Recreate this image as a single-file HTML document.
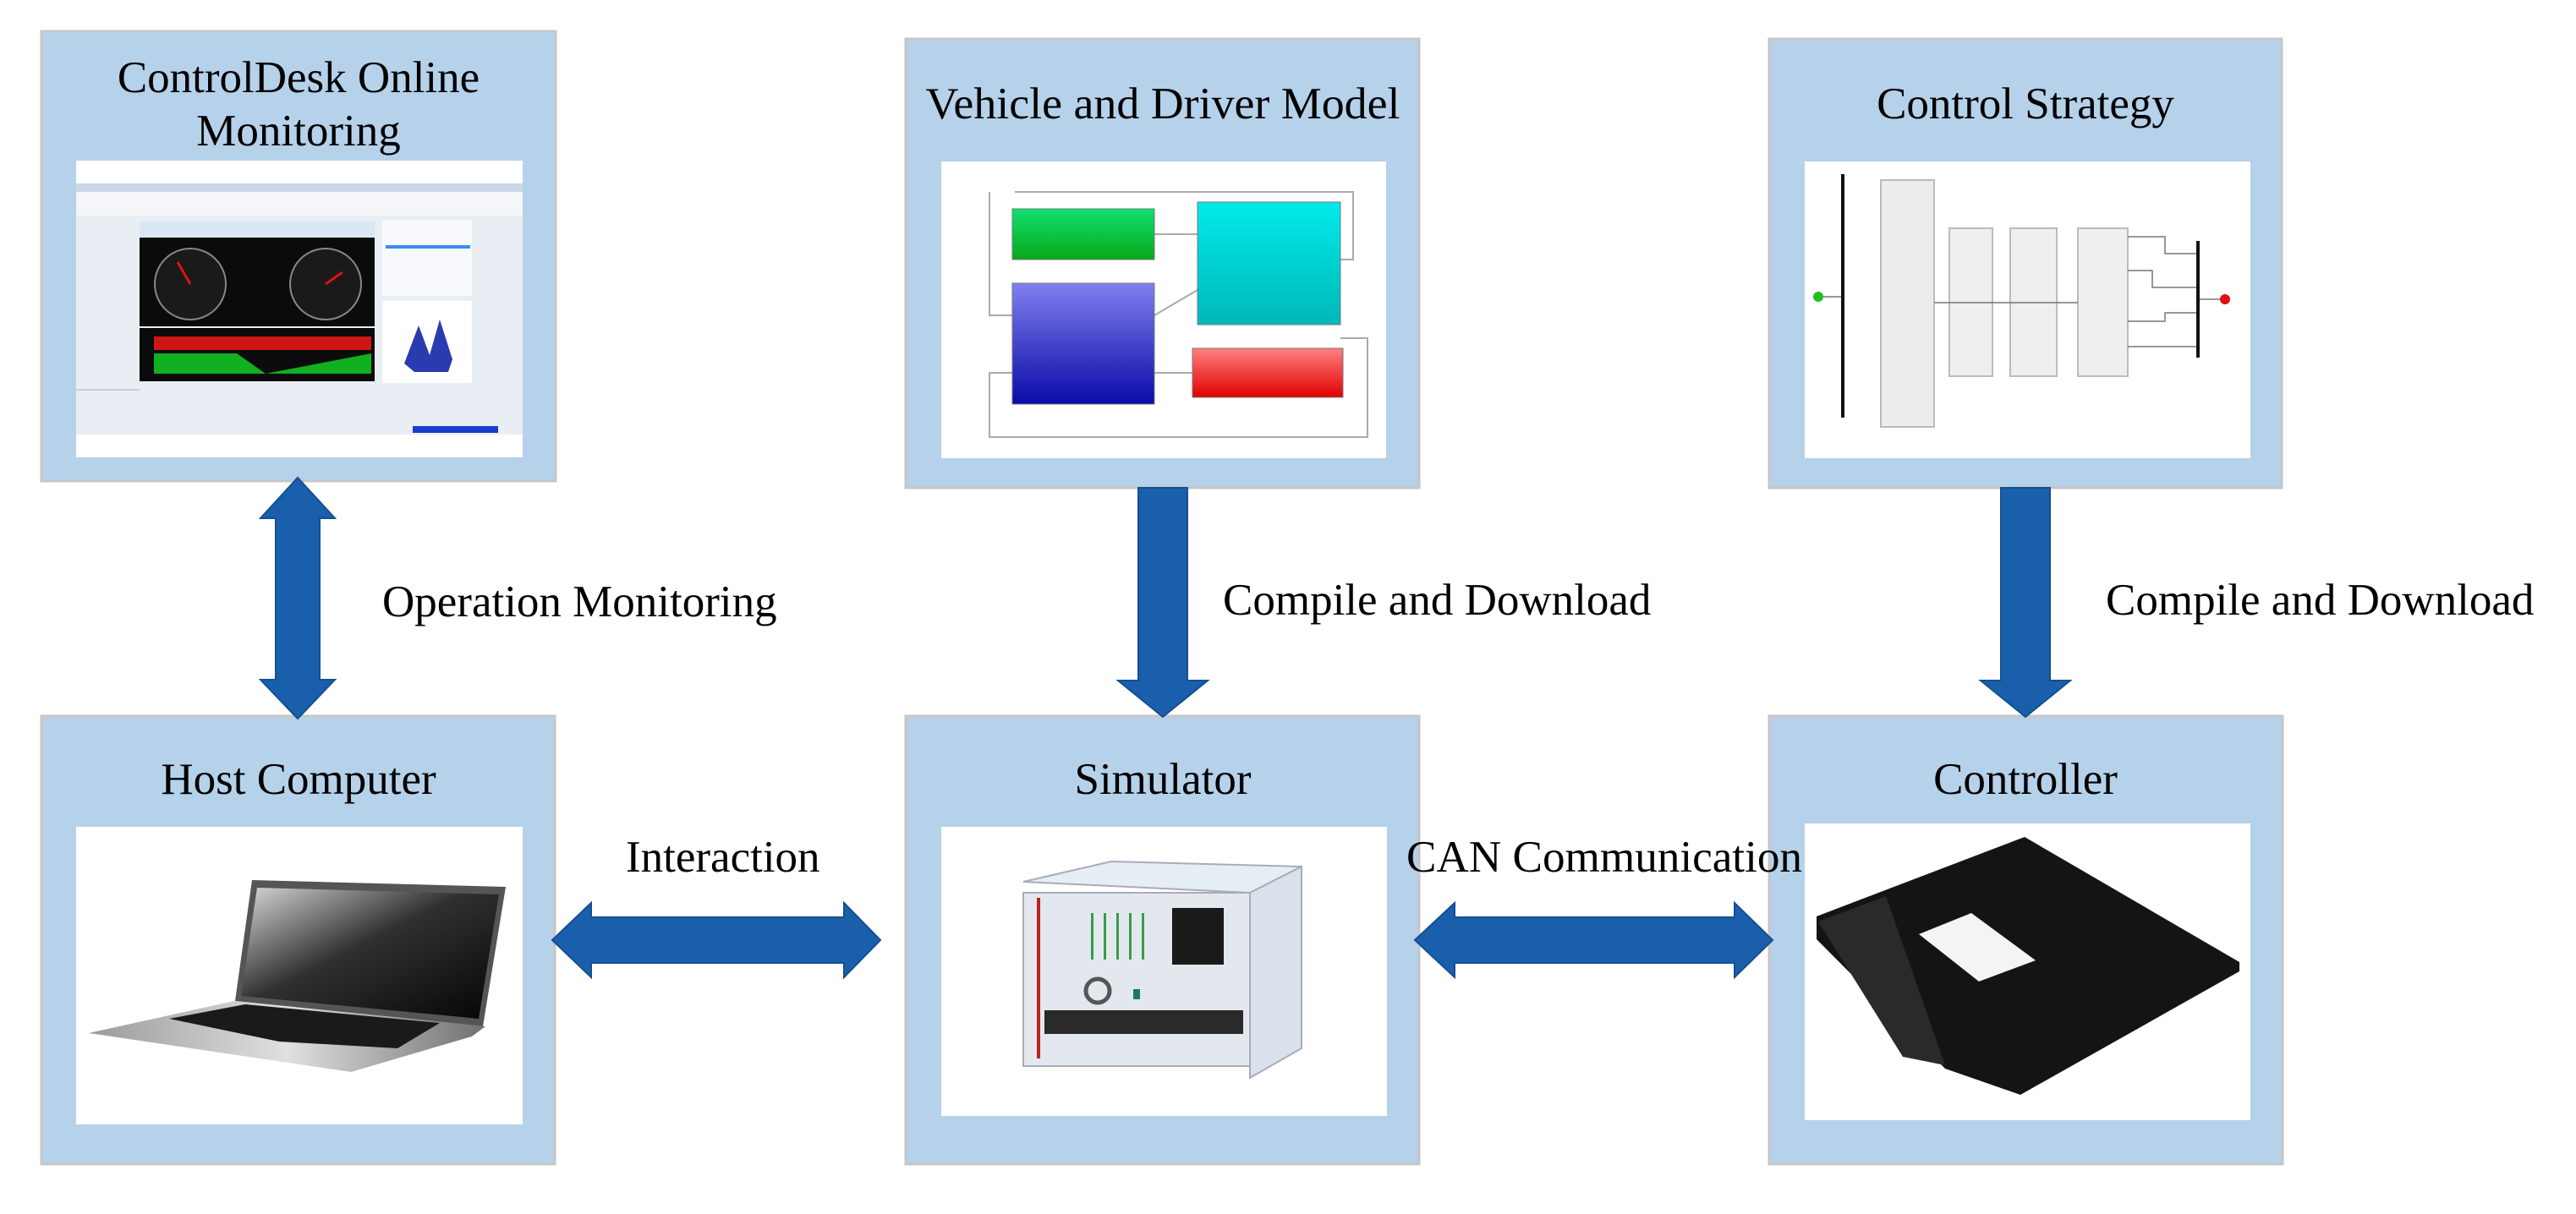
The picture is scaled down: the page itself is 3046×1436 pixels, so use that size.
<!DOCTYPE html>
<html><head><meta charset="utf-8"><style>
html,body{margin:0;padding:0;background:#fff;}
svg{display:block;}
text{font-family:"Liberation Serif",serif;font-size:53px;fill:#000;}
</style></head><body>
<svg width="3046" height="1436" viewBox="0 0 3046 1436" xmlns="http://www.w3.org/2000/svg">
<defs>
<linearGradient id="gg" x1="0" y1="0" x2="0" y2="1"><stop offset="0" stop-color="#10e070"/><stop offset="1" stop-color="#08a818"/></linearGradient>
<linearGradient id="gc" x1="0" y1="0" x2="0" y2="1"><stop offset="0" stop-color="#00eaea"/><stop offset="1" stop-color="#00b8b8"/></linearGradient>
<linearGradient id="gb" x1="0" y1="0" x2="0" y2="1"><stop offset="0" stop-color="#8080ee"/><stop offset="1" stop-color="#0a0aa8"/></linearGradient>
<linearGradient id="gr" x1="0" y1="0" x2="0" y2="1"><stop offset="0" stop-color="#ff8080"/><stop offset="1" stop-color="#e00000"/></linearGradient>
<linearGradient id="gs" x1="0" y1="0" x2="1" y2="1"><stop offset="0" stop-color="#d8d8d8"/><stop offset="0.45" stop-color="#303030"/><stop offset="1" stop-color="#050505"/></linearGradient>
<linearGradient id="gbase" x1="0" y1="0" x2="1" y2="0"><stop offset="0" stop-color="#9a9a9a"/><stop offset="0.5" stop-color="#e0e0e0"/><stop offset="1" stop-color="#707070"/></linearGradient>
</defs>
<g fill="#b6d1ea" stroke="#c6c6c6" stroke-width="3">
<rect x="49" y="37" width="608" height="532"/>
<rect x="1071" y="46" width="607" height="531"/>
<rect x="2092" y="46" width="606" height="531"/>
<rect x="49" y="847" width="607" height="530"/>
<rect x="1071" y="847" width="607" height="530"/>
<rect x="2092" y="847" width="607" height="530"/>
</g>
<g fill="#fff">
<rect x="90" y="190" width="528" height="351"/>
<rect x="1113" y="191" width="526" height="351"/>
<rect x="2134" y="191" width="527" height="351"/>
<rect x="90" y="978" width="528" height="352"/>
<rect x="1113" y="978" width="527" height="342"/>
<rect x="2134" y="974" width="527" height="351"/>
</g>
<!-- ControlDesk screenshot -->
<rect x="90" y="217" width="528" height="297" fill="#e9eef4"/>
<rect x="90" y="217" width="528" height="10" fill="#c9d7e8"/>
<rect x="90" y="227" width="528" height="28" fill="#f4f6f9"/>
<rect x="165" y="262" width="278" height="18" fill="#d9e7f5"/>
<rect x="165" y="281" width="278" height="105" fill="#0b0b0b"/>
<circle cx="225" cy="336" r="42" fill="#1a1a1a" stroke="#888" stroke-width="2"/>
<circle cx="385" cy="336" r="42" fill="#1a1a1a" stroke="#888" stroke-width="2"/>
<line x1="225" y1="336" x2="210" y2="310" stroke="#e01010" stroke-width="3"/>
<line x1="385" y1="336" x2="405" y2="322" stroke="#e01010" stroke-width="3"/>
<rect x="165" y="388" width="278" height="63" fill="#0b0b0b"/>
<rect x="182" y="398" width="257" height="16" fill="#d01515"/>
<polygon points="182,418 280,418 314,442 439,418 439,442 182,442" fill="#10b020"/>
<rect x="452" y="356" width="106" height="97" fill="#fff"/>
<polygon points="478,430 495,385 508,420 520,378 535,425 530,440 490,440" fill="#2a3bb0"/>
<rect x="452" y="260" width="106" height="90" fill="#f7f9fc"/>
<rect x="456" y="290" width="100" height="4" fill="#3a8ef0"/>
<rect x="90" y="460" width="75" height="2" fill="#ccc"/>
<rect x="488" y="504" width="101" height="8" fill="#1a3cd0"/>
<!-- Vehicle model -->
<g stroke="#aaa" stroke-width="2" fill="none">
<polyline points="1200,227 1600,227 1600,307 1585,307"/>
<polyline points="1585,400 1617,400 1617,517 1170,517 1170,441 1197,441"/>
<polyline points="1170,227 1170,373 1197,373"/>
<line x1="1365" y1="277" x2="1416" y2="277"/>
<line x1="1365" y1="373" x2="1416" y2="343"/>
<line x1="1365" y1="441" x2="1410" y2="441"/>
</g>
<rect x="1197" y="247" width="168" height="60" fill="url(#gg)" stroke="#777"/>
<rect x="1416" y="239" width="169" height="145" fill="url(#gc)" stroke="#777"/>
<rect x="1197" y="335" width="168" height="143" fill="url(#gb)" stroke="#777"/>
<rect x="1410" y="412" width="178" height="58" fill="url(#gr)" stroke="#777"/>
<!-- Control strategy -->
<rect x="2177" y="206" width="4" height="288" fill="#111"/>
<rect x="2224" y="213" width="63" height="292" fill="#ececec" stroke="#bbb" stroke-width="2"/>
<rect x="2305" y="270" width="51" height="175" fill="#efefef" stroke="#bbb" stroke-width="2"/>
<rect x="2377" y="270" width="55" height="175" fill="#efefef" stroke="#bbb" stroke-width="2"/>
<rect x="2457" y="270" width="59" height="175" fill="#efefef" stroke="#bbb" stroke-width="2"/>
<rect x="2597" y="285" width="4" height="138" fill="#111"/>
<g stroke="#777" stroke-width="1.5" fill="none">
<line x1="2287" y1="358" x2="2457" y2="358"/>
<polyline points="2516,280 2560,280 2560,300 2597,300"/>
<polyline points="2516,320 2545,320 2545,340 2597,340"/>
<polyline points="2516,380 2560,380 2560,370 2597,370"/>
<line x1="2516" y1="410" x2="2597" y2="410"/>
<line x1="2155" y1="351" x2="2177" y2="351"/>
<line x1="2601" y1="354" x2="2625" y2="354"/>
</g>
<circle cx="2150" cy="351" r="6" fill="#20c020"/>
<circle cx="2631" cy="354" r="6" fill="#e01010"/>
<!-- Laptop -->
<polygon points="298,1041 598,1049 571,1214 278,1184" fill="#555"/>
<polygon points="304,1050 590,1058 566,1205 285,1178" fill="url(#gs)"/>
<polygon points="105,1222 277,1184 574,1214 558,1226 415,1268" fill="url(#gbase)"/>
<polygon points="200,1205 290,1188 520,1210 470,1240 330,1232" fill="#1a1a1a"/>
<!-- Simulator -->
<polygon points="1210,1043 1314,1019 1539,1025 1478,1056" fill="#e6eef5" stroke="#aab" stroke-width="2"/>
<polygon points="1478,1056 1539,1025 1539,1240 1478,1275" fill="#d9e1ea" stroke="#aab" stroke-width="2"/>
<rect x="1210" y="1056" width="268" height="205" fill="#e3e8ee" stroke="#aab" stroke-width="2"/>
<rect x="1226" y="1062" width="4" height="190" fill="#c02020"/>
<rect x="1386" y="1074" width="61" height="67" fill="#1a1a1a"/>
<g fill="#3a9a4a"><rect x="1290" y="1080" width="3" height="55"/><rect x="1305" y="1080" width="3" height="55"/><rect x="1320" y="1080" width="3" height="55"/><rect x="1335" y="1080" width="3" height="55"/><rect x="1350" y="1080" width="3" height="55"/></g>
<circle cx="1298" cy="1172" r="14" fill="none" stroke="#555" stroke-width="5"/>
<rect x="1340" y="1170" width="8" height="12" fill="#1a7a5a"/>
<rect x="1235" y="1195" width="235" height="28" fill="#2a2a2a"/>
<!-- Controller -->
<polygon points="2148,1084 2394,990 2648,1138 2648,1149 2389,1295 2300,1264 2148,1111" fill="#141414"/>
<polygon points="2150,1090 2230,1060 2300,1260 2250,1250" fill="#2a2a2a"/>
<polygon points="2269,1105 2331,1080 2407,1136 2340,1161" fill="#f4f4f4"/>
<!-- Arrows -->
<g fill="#1a5fac" stroke="#154f90" stroke-width="2">
<polygon points="352,565 396,613 378,613 378,804 396,804 352,850 308,804 326,804 326,613 308,613"/>
<polygon points="1346,577 1404,577 1404,805 1428,805 1375,848 1322,805 1346,805"/>
<polygon points="2366,577 2424,577 2424,805 2448,805 2395,848 2342,805 2366,805"/>
<polygon points="653,1112 699,1068 699,1085 998,1085 998,1068 1041,1112 998,1156 998,1139 699,1139 699,1156"/>
<polygon points="1673,1112 1720,1068 1720,1085 2051,1085 2051,1068 2096,1112 2051,1156 2051,1139 1720,1139 1720,1156"/>
</g>
<!-- Text -->
<text x="353" y="109" text-anchor="middle">ControlDesk Online</text>
<text x="353" y="172" text-anchor="middle">Monitoring</text>
<text x="1375" y="140" text-anchor="middle" textLength="561" lengthAdjust="spacingAndGlyphs">Vehicle and Driver Model</text>
<text x="2395" y="140" text-anchor="middle">Control Strategy</text>
<text x="353" y="939" text-anchor="middle">Host Computer</text>
<text x="1375" y="939" text-anchor="middle">Simulator</text>
<text x="2395" y="939" text-anchor="middle">Controller</text>
<text x="452" y="729">Operation Monitoring</text>
<text x="1446" y="727">Compile and Download</text>
<text x="2490" y="727">Compile and Download</text>
<text x="740" y="1031">Interaction</text>
<text x="1663" y="1031" textLength="468" lengthAdjust="spacingAndGlyphs">CAN Communication</text>
</svg>
</body></html>
